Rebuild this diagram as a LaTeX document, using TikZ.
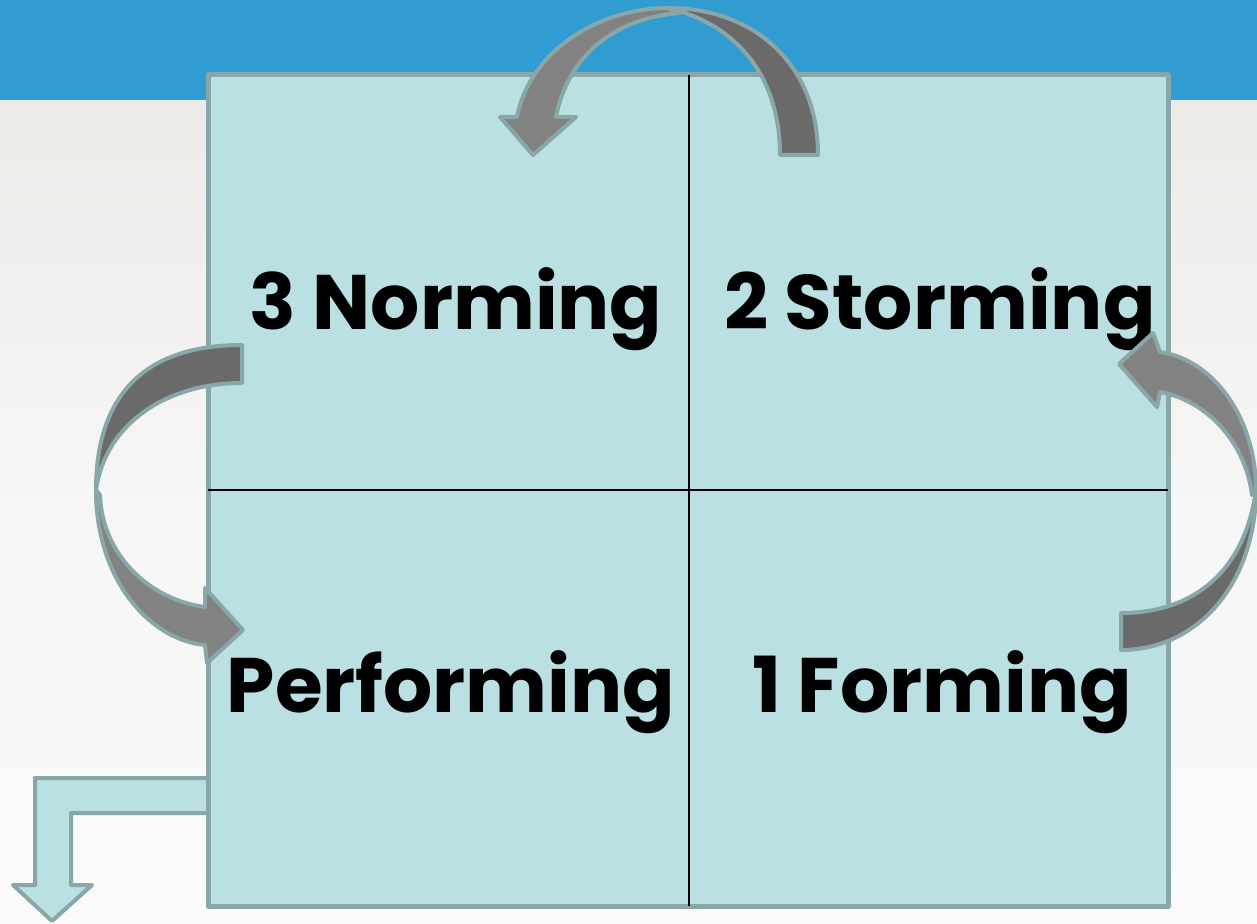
\documentclass[tikz,border=0pt]{standalone}
\usepackage{fontspec}
\setmainfont{Poppins}
\definecolor{bandblue}{HTML}{309CD2}
\definecolor{quad}{HTML}{BBE0E3}
\definecolor{rim}{HTML}{89A6A8}
\definecolor{darkgrey}{HTML}{6A6A6A}
\definecolor{lightgrey}{HTML}{828282}
\definecolor{paletop}{HTML}{EDEBE8}
\definecolor{palemid}{HTML}{F7F6F6}
\definecolor{palebot}{HTML}{FAFAFA}

\begin{document}
\begin{tikzpicture}[x=0.2mm, y=-0.2mm,
	rimline/.style={draw=rim, line width=0.8mm, line join=round},
	stage/.style={anchor=base, font=\fontsize{44}{48}\selectfont\bfseries}]
		\useasboundingbox (0,0) rectangle (1257,924);

		% background
		\fill[top color=paletop, bottom color=palebot, middle color=palemid] (0,100) rectangle (1257,924);
		\fill[bandblue] (0,0) rectangle (1257,100);

		% exit arrow
		\draw[rimline, fill=quad] (208,778) -- (35,778) -- (35,885) -- (13,885) -- (52,921)
			-- (92,885) -- (71,885) -- (71,813) -- (208,813);

		% square and quadrants
		\draw[rimline, line width=1mm, fill=quad] (208,75) rectangle (1168,906);
		\draw[line width=0.4mm] (689,75) -- (689,906);
		\draw[line width=0.4mm] (208,490) -- (1168,490);

		\node[stage] (norming) at (456,330) {3 Norming};
		\node[stage] (storming) at (940,330) {2 Storming};
		\node[stage] (performing) at (451,712) {Performing};
		\node[stage] (forming) at (942,712) {1 Forming};

		% storming -> norming
		\draw[rimline, fill=darkgrey] (818,155) .. controls (818,65) and (755,8) .. (668,8)
			.. controls (740,25) and (780,80) .. (780,155) -- cycle;
		\draw[rimline, fill=lightgrey] (680,13) .. controls (615,18) and (568,55) .. (556,117)
			-- (576,117) -- (533,155) -- (500,117) -- (517,117)
			.. controls (530,50) and (600,8) .. (668,8) -- cycle;

		% forming -> storming
		\draw[rimline, fill=darkgrey] (1121,650) .. controls (1200,650) and (1256,580) .. (1256,490)
			.. controls (1245,570) and (1195,613) .. (1121,613) -- cycle;
		\draw[rimline, fill=lightgrey] (1252,495) .. controls (1245,440) and (1205,400) .. (1160,392)
			-- (1157,407) -- (1119,364) -- (1153,333) -- (1160,352)
			.. controls (1215,360) and (1256,420) .. (1256,490) -- cycle;

		% norming -> performing
		\draw[rimline, fill=darkgrey] (242,345) .. controls (140,345) and (96,400) .. (96,490)
			.. controls (105,425) and (165,383) .. (242,383) -- cycle;
		\draw[rimline, fill=lightgrey] (100,495) .. controls (102,555) and (150,600) .. (205,607)
			-- (205,588) -- (243,630) -- (207,663) -- (205,645)
			.. controls (150,640) and (96,580) .. (96,490) -- cycle;
\end{tikzpicture}
\end{document}
